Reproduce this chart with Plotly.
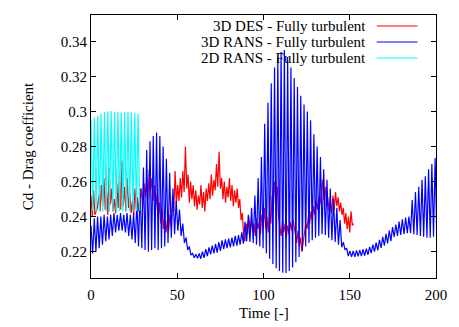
import numpy as np
import plotly.graph_objects as go

# ---------------- data ----------------
# 3D DES - Fully turbulent: Cd sampled every DES_DT time units from t=0
DES_DT = 0.75
des_cd = [
    0.252, 0.240, 0.255, 0.241, 0.243,
    0.245, 0.252, 0.243, 0.258, 0.246, 0.262, 0.244, 0.255, 0.241, 0.268, 0.247,
    0.256, 0.243, 0.250, 0.242, 0.259, 0.245, 0.264, 0.244, 0.272, 0.246, 0.257,
    0.243, 0.262, 0.245, 0.253, 0.242, 0.249, 0.241, 0.256, 0.244, 0.251, 0.243,
    0.248, 0.256, 0.245, 0.259, 0.251, 0.262, 0.250, 0.267, 0.255,
    0.262, 0.249, 0.258, 0.244, 0.253, 0.240, 0.248,
    0.236, 0.244, 0.233, 0.240, 0.231, 0.238, 0.232, 0.241, 0.234,
    0.252, 0.243, 0.266, 0.247, 0.258,
    0.249, 0.262, 0.251, 0.266, 0.254, 0.280, 0.256, 0.264, 0.248, 0.260, 0.250, 0.258,
    0.246, 0.255, 0.244, 0.252, 0.247, 0.258, 0.245, 0.254, 0.243, 0.256, 0.249,
    0.259, 0.250, 0.264, 0.252, 0.261, 0.255, 0.270, 0.257, 0.277,
    0.256, 0.262, 0.250, 0.260, 0.248, 0.257, 0.251, 0.262, 0.249, 0.258, 0.246,
    0.255, 0.248, 0.256,
    0.245, 0.250, 0.238, 0.242, 0.228, 0.226,
    0.236, 0.230, 0.240, 0.232, 0.238, 0.231, 0.236, 0.229, 0.239, 0.233, 0.237,
    0.230, 0.241, 0.234,
    0.245, 0.233, 0.240, 0.231, 0.243, 0.236, 0.252, 0.246,
    0.260, 0.249, 0.257, 0.240,
    0.234, 0.229, 0.238, 0.231, 0.236, 0.228, 0.235, 0.230, 0.237, 0.232, 0.239, 0.233,
    0.230, 0.225, 0.232, 0.223, 0.228, 0.220, 0.226, 0.229,
    0.236, 0.233, 0.240, 0.236, 0.243, 0.238, 0.246, 0.241, 0.249, 0.244, 0.251, 0.247,
    0.255, 0.261, 0.250, 0.257, 0.246,
    0.251, 0.243, 0.249, 0.242, 0.252, 0.244, 0.254, 0.246, 0.251, 0.243, 0.248,
    0.241, 0.245, 0.236, 0.242, 0.233, 0.240, 0.231, 0.243, 0.235, 0.236,
]

# 3D RANS - Fully turbulent: one peak and one trough per shedding cycle
RANS3D_PERIOD = 1.9
rans3d_peaks = [
    0.235, 0.239, 0.240, 0.240, 0.241, 0.240,
    0.241, 0.242, 0.241, 0.242, 0.241, 0.242,
    0.241, 0.242, 0.248, 0.256,
    0.268, 0.278, 0.283, 0.286, 0.288, 0.286, 0.280, 0.273, 0.265, 0.256, 0.249,
    0.244, 0.236, 0.228, 0.223, 0.219,
    0.2185,
    0.219, 0.220, 0.2215, 0.2225, 0.2235, 0.2245, 0.2255, 0.2265, 0.227, 0.2275,
    0.228, 0.229, 0.2295, 0.231,
    0.237, 0.241, 0.245, 0.252, 0.262, 0.274,
    0.293, 0.305, 0.316, 0.325, 0.331, 0.334, 0.335, 0.331, 0.325, 0.319, 0.314,
    0.309, 0.304, 0.300, 0.295, 0.287, 0.280, 0.274, 0.267, 0.261, 0.256, 0.250,
    0.245, 0.238,
    0.2255, 0.222, 0.2205, 0.2205,
    0.2207, 0.2209, 0.2213, 0.2218, 0.2228, 0.224, 0.2252, 0.2268, 0.2285, 0.2302, 0.232,
    0.234, 0.2355, 0.2372, 0.2385, 0.2395, 0.240,
    0.2495, 0.254, 0.257, 0.261, 0.263, 0.267, 0.270, 0.2735,
]
rans3d_troughs = [
    0.219, 0.220, 0.222, 0.224, 0.226, 0.227,
    0.229, 0.231, 0.232, 0.232, 0.231, 0.229,
    0.227, 0.225, 0.223, 0.222,
    0.221, 0.220, 0.221, 0.222, 0.221, 0.222, 0.223, 0.225, 0.228, 0.230, 0.232,
    0.229, 0.225, 0.221, 0.218, 0.2165,
    0.2162,
    0.2160, 0.2165, 0.2175, 0.2185, 0.219, 0.2195, 0.2205, 0.2215, 0.222, 0.2225,
    0.223, 0.2235, 0.224, 0.2245,
    0.226, 0.2255, 0.225, 0.224, 0.223, 0.222,
    0.219, 0.216, 0.213, 0.2105, 0.209, 0.208, 0.2078, 0.209, 0.211, 0.214, 0.217,
    0.2205, 0.223, 0.225, 0.2265, 0.228, 0.229, 0.230, 0.2295, 0.228, 0.2265, 0.2255,
    0.224, 0.2225,
    0.221, 0.2175, 0.217, 0.217,
    0.2173, 0.2175, 0.2177, 0.2182, 0.2192, 0.220, 0.2208, 0.2222, 0.2235, 0.2248, 0.226,
    0.2285, 0.229, 0.2295, 0.230, 0.2305, 0.2305,
    0.230, 0.2295, 0.229, 0.2285, 0.228, 0.228, 0.2285, 0.229,
]

# 2D RANS - Fully turbulent: one peak and one trough per cycle
RANS2D_PERIOD = 1.95
rans2d_peaks = [0.2955, 0.2965, 0.2975, 0.2985, 0.2995, 0.3000, 0.3003, 0.3000,
                0.2995, 0.2992, 0.2995, 0.2998, 0.2995, 0.2990, 0.2985]
rans2d_troughs = [0.2432, 0.2430, 0.2432, 0.2430, 0.2431, 0.2430, 0.2432, 0.2430,
                  0.2431, 0.2430, 0.2432, 0.2431, 0.2430, 0.2432, 0.2433]

series_names = ["3D DES - Fully turbulent", "3D RANS - Fully turbulent",
                "2D RANS - Fully turbulent"]
series_colors = ["#ff0000", "#0000ff", "#00ffff"]

x_ticks = [0, 50, 100, 150, 200]
y_ticks = [0.22, 0.24, 0.26, 0.28, 0.30, 0.32, 0.34]
y_tick_text = ["0.22", "0.24", "0.26", "0.28", "0.3", "0.32", "0.34"]

assert len(rans3d_peaks) == len(rans3d_troughs)
assert len(rans2d_peaks) == len(rans2d_troughs)


def interleave(peaks, troughs, period):
    vals = []
    for p, t in zip(peaks, troughs):
        vals += [p, t]
    times = np.arange(len(vals)) * (period / 2.0)
    return times, vals


t_des = np.arange(len(des_cd)) * DES_DT
t_r3, v_r3 = interleave(rans3d_peaks, rans3d_troughs, RANS3D_PERIOD)
t_r2, v_r2 = interleave(rans2d_peaks, rans2d_troughs, RANS2D_PERIOD)

FONT = "Liberation Serif"
TXT = dict(family=FONT, size=15, color="black")
fig = go.Figure()
for name, tx, vy, col in zip(series_names, [t_des, t_r3, t_r2], [des_cd, v_r3, v_r2],
                             series_colors):
    fig.add_trace(go.Scatter(x=tx, y=vy, mode="lines", name=name,
                             line=dict(color=col, width=1.2), showlegend=False))

# legend drawn gnuplot-style: text on the left, line sample on the right
L, R, T, B = 91, 13, 15, 49
W, H = 459, 327
pw, ph = W - L - R, H - T - B
rows_y = [26, 42, 58]
shapes = []
annotations = []
for name, col, ry in zip(series_names, series_colors, rows_y):
    yp = (H - B - ry) / ph
    annotations.append(dict(xref="paper", yref="paper", x=(376 - L) / pw, y=yp,
                            text=name, showarrow=False, xanchor="right",
                            yanchor="middle", font=TXT))
    shapes.append(dict(type="line", xref="paper", yref="paper",
                       x0=(385 - L) / pw, x1=(427 - L) / pw, y0=yp, y1=yp,
                       line=dict(color=col, width=1.2)))

annotations.append(dict(xref="paper", yref="paper", x=(26 - L) / pw, y=0.5,
                        text="Cd - Drag coefficient", textangle=-90, showarrow=False,
                        xanchor="center", yanchor="middle", font=TXT))
# x-axis title as text, centred below the plot
annotations.append(dict(xref="paper", yref="paper", x=0.5, y=-(313 - (H - B)) / ph,
                        text="Time [-]", showarrow=False, xanchor="center",
                        yanchor="middle", font=TXT))

fig.update_layout(
    width=W, height=H,
    margin=dict(l=L, r=R, t=T, b=B),
    paper_bgcolor="white", plot_bgcolor="white",
    font=TXT,
    shapes=shapes, annotations=annotations,
)
fig.update_xaxes(range=[0, 200], tickvals=x_ticks, ticks="inside", ticklen=5,
                 tickcolor="black", showline=True, linecolor="black", linewidth=1,
                 mirror="allticks", showgrid=False, zeroline=False,
                 ticklabelstandoff=3, tickfont=TXT)
fig.update_yaxes(range=[0.205, 0.355], tickvals=y_ticks, ticktext=y_tick_text,
                 ticks="inside", ticklen=5, tickcolor="black", showline=True,
                 linecolor="black", linewidth=1, mirror="allticks", showgrid=False,
                 zeroline=False, tickfont=TXT)

fig.write_html("out.html")
